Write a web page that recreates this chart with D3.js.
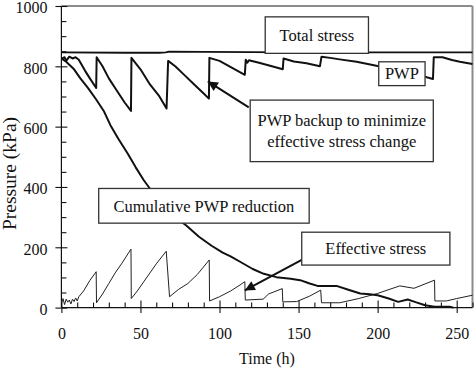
<!DOCTYPE html>
<html>
<head>
<meta charset="utf-8">
<script src="https://cdn.jsdelivr.net/npm/d3@7"></script>
<style>
  html, body { margin: 0; padding: 0; background: #fff; }
  svg { display: block; }
  svg text { font-family: "Liberation Serif", "Tinos", "Times New Roman", "DejaVu Serif", serif; }
</style>
</head>
<body>
<svg id="chart" width="474" height="368"></svg>
<script>
// ---------- data (time in h, pressure in kPa) ----------
const xMajorTicks = [0, 50, 100, 150, 200, 250];
const yMajorTicks = [0, 200, 400, 600, 800, 1000];

const totalStressT = [0, 40, 62, 66, 68, 90, 120, 150, 180, 210, 240, 260];
const totalStressV = [846, 845, 845, 846, 849, 848, 847, 846, 846, 846, 846, 846];

const pwpT = [0, 2, 3, 5, 7, 9, 11, 15, 18, 22, 22.3, 26, 30, 35, 40, 44, 44.3, 50, 56, 62, 66.5, 67.5,
  72, 78, 84, 90, 93.3, 93.6, 100, 108, 116, 116.6, 117.6, 118.6, 125, 132, 140, 140.5, 147, 155, 163.5, 164.5,
  170, 176, 186.7, 200, 210, 220, 231, 235, 235.5, 241, 247, 252, 260];
const pwpV = [825, 830, 818, 832, 826, 830, 822, 785, 760, 728, 830, 800, 760, 720, 680, 652, 828, 790, 740, 700, 660, 818,
  800, 770, 740, 710, 693, 828, 818, 795, 772, 822, 812, 820, 812, 802, 790, 826, 816, 810, 800, 832,
  828, 823, 815, 801, 795, 785, 764, 758, 830, 830, 821, 815, 808];

const cumT = [0, 3, 8, 12, 17, 22, 27, 31, 36, 42, 47, 52, 58, 65, 72, 79, 87, 95, 102, 107, 113, 121, 128, 136,
  145, 151, 157, 162, 174, 181, 189, 195, 200, 207, 213, 219, 224, 230, 236, 245.6, 248];
const cumV = [826, 815, 790, 760, 727, 690, 650, 605, 560, 510, 465, 423, 380, 335, 300, 272, 235, 205, 182, 170, 152, 128, 112, 101,
  96, 91, 80, 72, 72, 60, 47, 44, 41, 30, 19, 27, 18, 8, 3, 3, 0];

const effT = [0, 1, 2, 3, 4, 5, 6, 7, 8, 9, 10, 11, 14, 18, 22, 22.2, 26, 30, 34, 38, 44, 44.2, 48, 52, 56, 60, 66.3, 68.4,
  74, 80, 86, 93.5, 93.7, 100, 107, 113, 116, 116.3, 127.6, 131, 139.7, 140, 148.8, 157, 164, 164.5, 176, 188, 200, 214,
  223, 236, 236.2, 243.5, 250, 260];
const effV = [15, 30, 10, 28, 18, 25, 12, 28, 20, 32, 22, 36, 55, 90, 119, 16, 45, 80, 115, 145, 194, 30, 55, 85, 115, 145, 187, 36,
  60, 80, 110, 158, 22, 36, 55, 75, 86, 25, 28, 45, 63, 19, 20, 38, 58, 16, 16, 30, 47, 72,
  64, 91, 22, 22, 30, 41];

// annotation boxes (data units): t0, t1, v-top, v-bottom, lines of text
const boxLabels = [["Total stress"], ["PWP"], ["PWP backup to minimize", "effective stress change"],
  ["Cumulative PWP reduction"], ["Effective stress"]];
const boxT0 = [128.9, 200.7, 119.4, 23.6, 152];
const boxT1 = [194.2, 230, 235.2, 156.7, 245.7];
const boxVTop = [964, 815, 688, 395, 250];
const boxVBot = [843, 736, 484, 280, 141];

// arrows (data units): tail -> tip
const arrowTail = [[118.5, 664], [152, 158]];
const arrowTip = [[92.6, 750], [116.0, 57]];

// ---------- chart ----------
const svg = d3.select("#chart");
const x = d3.scaleLinear().domain([0, 260]).range([61.4, 472.5]);
const y = d3.scaleLinear().domain([0, 1000]).range([307.6, 6]);

const serif = '"Liberation Serif", "Tinos", "Times New Roman", "DejaVu Serif", serif';

// frame top & right
svg.append("line").attr("x1", x(0)).attr("x2", x(260)).attr("y1", y(1000)).attr("y2", y(1000))
  .attr("stroke", "#666").attr("stroke-width", 1.4);
svg.append("line").attr("x1", x(260)).attr("x2", x(260)).attr("y1", y(1000)).attr("y2", y(0))
  .attr("stroke", "#8a8a8a").attr("stroke-width", 2);

const xMinor = d3.range(0, 261, 10).filter(d => d % 50 !== 0);
const yMinor = d3.range(0, 1001, 50).filter(d => d % 200 !== 0);

function styleAxis(g) {
  g.attr("font-family", null).attr("font-size", null);
  g.selectAll("path.domain").remove();
  g.selectAll(".tick line").attr("stroke", "#111").attr("stroke-width", 1.1);
  g.selectAll(".tick text").style("font-family", serif).style("font-size", "16px").attr("fill", "#111");
}

// x axis
const gx = svg.append("g").attr("transform", `translate(0,${y(0)})`);
gx.append("g").call(d3.axisBottom(x).tickValues(xMajorTicks).tickSize(5.5).tickPadding(15).tickFormat(d3.format("d"))).call(styleAxis);
gx.append("g").call(d3.axisBottom(x).tickValues(xMajorTicks).tickSize(-7).tickFormat("")).call(styleAxis);
gx.append("g").call(d3.axisBottom(x).tickValues(xMinor).tickSize(-5).tickFormat("")).call(styleAxis);
gx.append("line").attr("x1", x(0)).attr("x2", x(260)).attr("stroke", "#111").attr("stroke-width", 1.2);

// y axis
const gy = svg.append("g").attr("transform", `translate(${x(0)},0)`);
gy.append("g").call(d3.axisLeft(y).tickValues(yMajorTicks).tickSize(6).tickPadding(8).tickFormat(d3.format("d"))).call(styleAxis);
gy.selectAll("text").attr("dy", "0.42em");
gy.append("g").call(d3.axisLeft(y).tickValues(yMajorTicks).tickSize(-6).tickFormat("")).call(styleAxis);
gy.append("g").call(d3.axisLeft(y).tickValues(yMinor).tickSize(-5).tickFormat("")).call(styleAxis);
gy.append("line").attr("y1", y(0)).attr("y2", y(1000)).attr("stroke", "#111").attr("stroke-width", 1.2);

// axis titles
svg.append("text").attr("x", (x(0) + x(260)) / 2 + 0).attr("y", 363.5)
  .attr("text-anchor", "middle").style("font-family", serif).style("font-size", "16px").attr("fill", "#111")
  .text("Time (h)");
svg.append("text").attr("transform", `translate(16,${173.5}) rotate(-90)`)
  .attr("text-anchor", "middle").style("font-family", serif).style("font-size", "19.5px").attr("fill", "#111")
  .text("Pressure (kPa)");

// series
const line = d3.line().x(d => x(d[0])).y(d => y(d[1]));
const zip = (a, b) => a.map((t, i) => [t, b[i]]);

svg.append("path").datum(zip(effT, effV)).attr("d", line)
  .attr("fill", "none").attr("stroke", "#222").attr("stroke-width", 1).attr("stroke-linejoin", "round");
svg.append("path").datum(zip(cumT, cumV)).attr("d", line)
  .attr("fill", "none").attr("stroke", "#111").attr("stroke-width", 2).attr("stroke-linejoin", "round");
svg.append("path").datum(zip(pwpT, pwpV)).attr("d", line)
  .attr("fill", "none").attr("stroke", "#111").attr("stroke-width", 2).attr("stroke-linejoin", "round");
svg.append("path").datum(zip(totalStressT, totalStressV)).attr("d", line)
  .attr("fill", "none").attr("stroke", "#111").attr("stroke-width", 1.8).attr("stroke-linejoin", "round");

// arrows
const defs = svg.append("defs");
defs.append("marker").attr("id", "ah").attr("viewBox", "0 0 10 10").attr("refX", 10).attr("refY", 5)
  .attr("markerWidth", 6).attr("markerHeight", 5).attr("markerUnits", "strokeWidth").attr("orient", "auto")
  .append("path").attr("d", "M0,0 L10,5 L0,10 Z").attr("fill", "#111");
arrowTail.forEach((tl, i) => {
  const tp = arrowTip[i];
  svg.append("line").attr("x1", x(tl[0])).attr("y1", y(tl[1])).attr("x2", x(tp[0])).attr("y2", y(tp[1]))
    .attr("stroke", "#111").attr("stroke-width", 2).attr("marker-end", "url(#ah)");
});

// annotation boxes
boxLabels.forEach((lines, i) => {
  const x0 = x(boxT0[i]), x1 = x(boxT1[i]), y0 = y(boxVTop[i]), y1 = y(boxVBot[i]);
  svg.append("rect").attr("x", x0).attr("y", y0).attr("width", x1 - x0).attr("height", y1 - y0)
    .attr("fill", "#fff").attr("stroke", "#333").attr("stroke-width", 1.3);
  const cy = (y0 + y1) / 2, lh = 21.5;
  lines.forEach((s, j) => {
    svg.append("text").attr("x", (x0 + x1) / 2).attr("y", cy + (j - (lines.length - 1) / 2) * lh)
      .attr("dy", "0.35em").attr("text-anchor", "middle")
      .style("font-family", serif).style("font-size", "16.5px").attr("fill", "#111").text(s);
  });
});
</script>
</body>
</html>
